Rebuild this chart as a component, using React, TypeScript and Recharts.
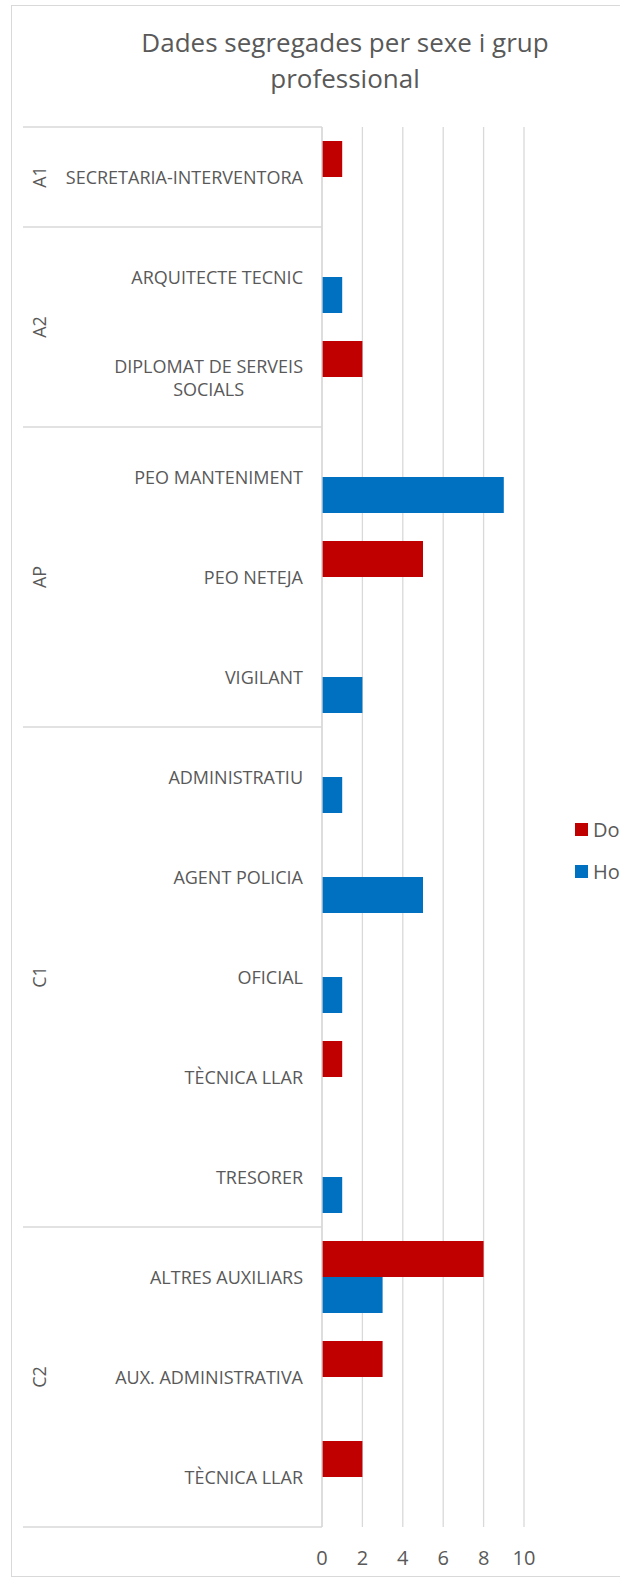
import { Bar, BarChart, CartesianGrid, XAxis, YAxis } from "recharts";

const titleLines = ["Dades segregades per sexe i grup", "professional"];

const categories = [
  "SECRETARIA-INTERVENTORA",
  "ARQUITECTE TECNIC",
  "DIPLOMAT DE SERVEIS\nSOCIALS",
  "PEO MANTENIMENT",
  "PEO NETEJA",
  "VIGILANT",
  "ADMINISTRATIU",
  "AGENT POLICIA",
  "OFICIAL",
  "TÈCNICA LLAR",
  "TRESORER",
  "ALTRES AUXILIARS",
  "AUX. ADMINISTRATIVA",
  "TÈCNICA LLAR",
];
const groups = ["A1", "A2", "A2", "AP", "AP", "AP", "C1", "C1", "C1", "C1", "C1", "C2", "C2", "C2"];
const dona = [1, 0, 2, 0, 5, 0, 0, 0, 0, 1, 0, 8, 3, 2];
const home = [0, 1, 0, 9, 0, 2, 1, 5, 1, 0, 1, 3, 0, 0];
const xTicks = [0, 2, 4, 6, 8, 10];

const seriesNames = ["Dona", "Home"];
const seriesColors = ["#C00000", "#0070C0"];

const data = categories.map((c, i) => ({
  key: `${groups[i]}|${c}`,
  dona: dona[i],
  home: home[i],
}));

const W = 620;
const H = 1581;
const MARGIN = { top: 127, right: 96, bottom: 4, left: 22 };
const Y_AXIS_W = 300;
const X_AXIS_H = 50;
const PLOT_H = H - MARGIN.top - MARGIN.bottom - X_AXIS_H;
const BAND = PLOT_H / categories.length;
const AXIS_X = MARGIN.left + Y_AXIS_W;
const GROUP_LINE_X = 23;
const GROUP_LABEL_X = 39;
const LABEL_FS = 18;
const TEXT = "#595959";
const GRID = "#d9d9d9";
const FONT = '"Open Sans", sans-serif';

let ctx: CanvasRenderingContext2D | null = null;
function measure(t: string) {
  if (!ctx) ctx = document.createElement("canvas").getContext("2d");
  if (!ctx) return t.length * 10.5;
  ctx.font = `${LABEL_FS}px "Open Sans"`;
  return ctx.measureText(t).width;
}

function CategoryTick(props: any) {
  const { x, y } = props;
  const i: number = props.index ?? props.payload?.index ?? 0;
  const lines = categories[i].split("\n");
  const maxW = Math.max(...lines.map(measure));
  const cx = x - maxW / 2;
  const lineH = 23;
  const startY = y - ((lines.length - 1) * lineH) / 2;

  const first = i === 0 || groups[i - 1] !== groups[i];
  let groupEl = null;
  if (first) {
    let n = 0;
    while (i + n < groups.length && groups[i + n] === groups[i]) n++;
    const top = y - BAND / 2;
    const gy = top + (n * BAND) / 2;
    groupEl = (
      <g>
        <line x1={GROUP_LINE_X} x2={AXIS_X} y1={top} y2={top} stroke={GRID} strokeWidth={1.3} />
        <text
          x={GROUP_LABEL_X}
          y={gy}
          transform={`rotate(-90 ${GROUP_LABEL_X} ${gy})`}
          textAnchor="middle"
          dominantBaseline="central"
          fontSize={18}
          fill={TEXT}
        >
          {groups[i]}
        </text>
      </g>
    );
  }
  const last = i === categories.length - 1;

  return (
    <g>
      {groupEl}
      {last && (
        <line
          x1={GROUP_LINE_X}
          x2={AXIS_X}
          y1={y + BAND / 2}
          y2={y + BAND / 2}
          stroke={GRID}
          strokeWidth={1.3}
        />
      )}
      {lines.map((l, k) => (
        <text
          key={k}
          x={lines.length > 1 ? cx : x}
          y={startY + k * lineH}
          textAnchor={lines.length > 1 ? "middle" : "end"}
          dominantBaseline="central"
          fontSize={LABEL_FS}
          fill={TEXT}
        >
          {l}
        </text>
      ))}
    </g>
  );
}

export default function App() {
  return (
    <div
      style={{
        position: "absolute",
        left: 0,
        top: 0,
        width: W,
        height: H,
        overflow: "hidden",
        background: "#fff",
        fontFamily: FONT,
      }}
    >
      <div
        style={{
          position: "absolute",
          left: 11,
          top: 5,
          width: 700,
          height: 1572,
          border: `1px solid ${GRID}`,
          boxSizing: "border-box",
        }}
      />
      <div
        style={{
          position: "absolute",
          left: 0,
          top: 24,
          width: 690,
          textAlign: "center",
          fontSize: 26,
          lineHeight: "36px",
          color: TEXT,
        }}
      >
        {titleLines.map((t, i) => (
          <div key={i}>{t}</div>
        ))}
      </div>
      <div style={{ position: "absolute", left: 0, top: 0 }}>
        <BarChart
          width={W}
          height={H}
          data={data}
          layout="vertical"
          margin={MARGIN}
          barCategoryGap="14%"
          barGap={0}
        >
          <CartesianGrid horizontal={false} stroke={GRID} strokeWidth={1.3} />
          <XAxis
            type="number"
            domain={[0, 10]}
            ticks={xTicks}
            height={X_AXIS_H}
            axisLine={false}
            tickLine={false}
            tickSize={0}
            tickMargin={24}
            tick={{ fill: TEXT, fontSize: 20 }}
          />
          <YAxis
            type="category"
            dataKey="key"
            width={Y_AXIS_W}
            interval={0}
            axisLine={{ stroke: GRID, strokeWidth: 1.3 }}
            tickLine={false}
            tickSize={0}
            tickMargin={19}
            tick={<CategoryTick />}
          />
          <Bar dataKey="dona" name={seriesNames[0]} fill={seriesColors[0]} isAnimationActive={false} />
          <Bar dataKey="home" name={seriesNames[1]} fill={seriesColors[1]} isAnimationActive={false} />
        </BarChart>
      </div>
      <div style={{ position: "absolute", left: 575, top: 808 }}>
        {seriesNames.map((s, i) => (
          <div key={s} style={{ display: "flex", alignItems: "center", height: 42 }}>
            <div style={{ width: 13, height: 13, background: seriesColors[i], marginRight: 5 }} />
            <span style={{ fontSize: 20, color: TEXT, whiteSpace: "nowrap" }}>{s}</span>
          </div>
        ))}
      </div>
    </div>
  );
}
